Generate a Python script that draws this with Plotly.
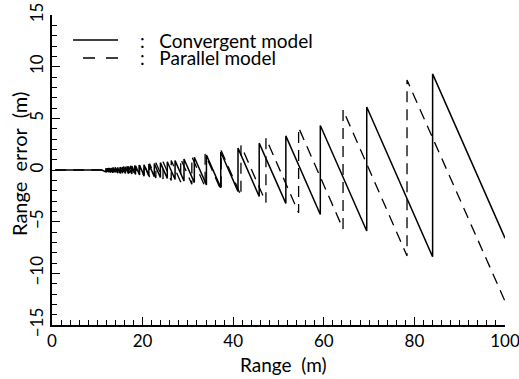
import plotly.graph_objects as go

# ---- data ----
# Convergent model: ranges (m) where the error jumps, error just before and just after each jump
conv_start_x = [0.7, 11.0]
conv_start_y = [0.0, 0.0]
conv_jump_x = [11.89, 12.25, 12.64, 13.05, 13.49, 13.95, 14.46, 15.00, 15.58, 16.21, 16.89,
               17.63, 18.44, 19.33, 20.30, 21.38, 22.59, 23.93, 25.45, 27.17, 29.14,
               31.42, 34.09, 37.25, 41.06, 45.74, 51.62, 59.23, 69.48, 84.02]
conv_before = [-0.18, -0.19, -0.21, -0.22, -0.24, -0.24, -0.27, -0.29, -0.31, -0.34, -0.36,
               -0.39, -0.43, -0.48, -0.52, -0.57, -0.64, -0.72, -0.81, -0.92, -1.06,
               -1.22, -1.44, -1.71, -2.07, -2.56, -3.23, -4.3, -5.9, -8.4]
conv_after = [0.17, 0.18, 0.19, 0.20, 0.22, 0.24, 0.25, 0.27, 0.29, 0.32, 0.35,
              0.38, 0.41, 0.45, 0.51, 0.57, 0.62, 0.71, 0.80, 0.91, 1.06,
              1.23, 1.45, 1.74, 2.12, 2.6, 3.3, 4.3, 6.1, 9.3]
conv_end_x = [100.0]
conv_end_y = [-6.6]

# Parallel model
par_start_x = [0.7, 11.0]
par_start_y = [0.0, 0.0]
par_jump_x = [12.49, 12.94, 13.43, 13.96, 14.53, 15.14, 15.81, 16.55, 17.35, 18.24, 19.22,
              20.32, 21.55, 22.93, 24.51, 26.32, 28.41, 30.87, 33.80, 37.34, 41.71,
              47.23, 54.44, 64.25, 78.37]
par_before = [-0.23, -0.25, -0.27, -0.29, -0.32, -0.34, -0.37, -0.41, -0.44, -0.49, -0.54,
              -0.61, -0.68, -0.77, -0.88, -1.01, -1.17, -1.37, -1.64, -2.00, -2.48,
              -3.15, -4.14, -5.70, -8.31]
par_after = [0.20, 0.22, 0.24, 0.25, 0.27, 0.30, 0.33, 0.36, 0.40, 0.44, 0.49,
             0.55, 0.61, 0.70, 0.80, 0.92, 1.09, 1.29, 1.54, 1.89, 2.37,
             3.07, 4.11, 5.81, 8.7]
par_end_x = [100.0]
par_end_y = [-12.7]

x_range = [0, 100]
y_range = [-15, 15]
x_tick_step = 20
y_tick_step = 5

legend_labels = ["Convergent model", "Parallel model"]
x_title = "Range\u00a0\u00a0(m)"
y_title = "Range\u00a0\u00a0error\u00a0\u00a0(m)"


def polyline(sx, sy, jx, before, after, ex, ey):
    xs, ys = list(sx), list(sy)
    for x, b, a in zip(jx, before, after):
        xs += [x, x]
        ys += [b, a]
    xs += list(ex)
    ys += list(ey)
    return xs, ys


cx, cy = polyline(conv_start_x, conv_start_y, conv_jump_x, conv_before, conv_after, conv_end_x, conv_end_y)
px, py = polyline(par_start_x, par_start_y, par_jump_x, par_before, par_after, par_end_x, par_end_y)

FONT = "Lato"

fig = go.Figure()
fig.add_trace(go.Scatter(x=px, y=py, mode="lines", name=legend_labels[1],
                         line=dict(color="black", width=1.3, dash="11px,7px"), showlegend=False))
fig.add_trace(go.Scatter(x=cx, y=cy, mode="lines", name=legend_labels[0],
                         line=dict(color="black", width=1.5), showlegend=False))

W, H = 519, 379
L, R, T, B = 52, 14, 15, 54
pw, ph = W - L - R, H - T - B


def pxx(p):
    return (p - L) / pw


def pyy(p):
    return (H - B - p) / ph


shapes = [
    dict(type="line", xref="paper", yref="paper", x0=pxx(73), x1=pxx(118), y0=pyy(40), y1=pyy(40),
         line=dict(color="black", width=1.5)),
    dict(type="line", xref="paper", yref="paper", x0=pxx(83), x1=pxx(118), y0=pyy(58), y1=pyy(58),
         line=dict(color="black", width=1.3, dash="12px,11px")),
]
annotations = []
for yy, lab in zip([40, 57], legend_labels):
    annotations.append(dict(xref="paper", yref="paper", x=pxx(138), y=pyy(yy), xanchor="left",
                            yanchor="middle", text=":\u00a0\u00a0\u00a0" + lab, showarrow=False,
                            font=dict(family=FONT, size=19, color="black")))
annotations.append(dict(xref="paper", yref="paper", x=pxx(283), y=pyy(365), xanchor="center",
                        yanchor="middle", text=x_title, showarrow=False,
                        font=dict(family=FONT, size=19, color="black")))
annotations.append(dict(xref="paper", yref="paper", x=pxx(19), y=pyy(164), xanchor="center",
                        yanchor="middle", text=y_title, textangle=-90, showarrow=False,
                        font=dict(family=FONT, size=20, color="black")))

tick_common = dict(ticks="inside", ticklen=8, tickwidth=1.2, tickcolor="black",
                   showline=True, linecolor="black", linewidth=1.5, showgrid=False,
                   zeroline=False, tickfont=dict(size=17), automargin=False,
                   ticklabeloverflow="allow")

fig.update_layout(
    width=W, height=H,
    margin=dict(l=L, r=R, t=T, b=B, pad=0, autoexpand=False),
    paper_bgcolor="white", plot_bgcolor="white",
    font=dict(family=FONT, size=17, color="black"),
    shapes=shapes, annotations=annotations,
    xaxis=dict(range=[x_range[0] - 1e-6, x_range[1] + 1e-6], tickmode="linear", tick0=0,
               dtick=x_tick_step,
               minor=dict(dtick=2, ticks="inside", ticklen=5, tickwidth=1.2, tickcolor="black"),
               **tick_common),
    yaxis=dict(range=[y_range[0] - 1e-6, y_range[1] + 1e-6], tickmode="linear", tick0=0,
               dtick=y_tick_step, tickangle=-90,
               minor=dict(dtick=1, ticks="inside", ticklen=5, tickwidth=1.2, tickcolor="black"),
               **tick_common),
)

fig.write_html("out.html")
